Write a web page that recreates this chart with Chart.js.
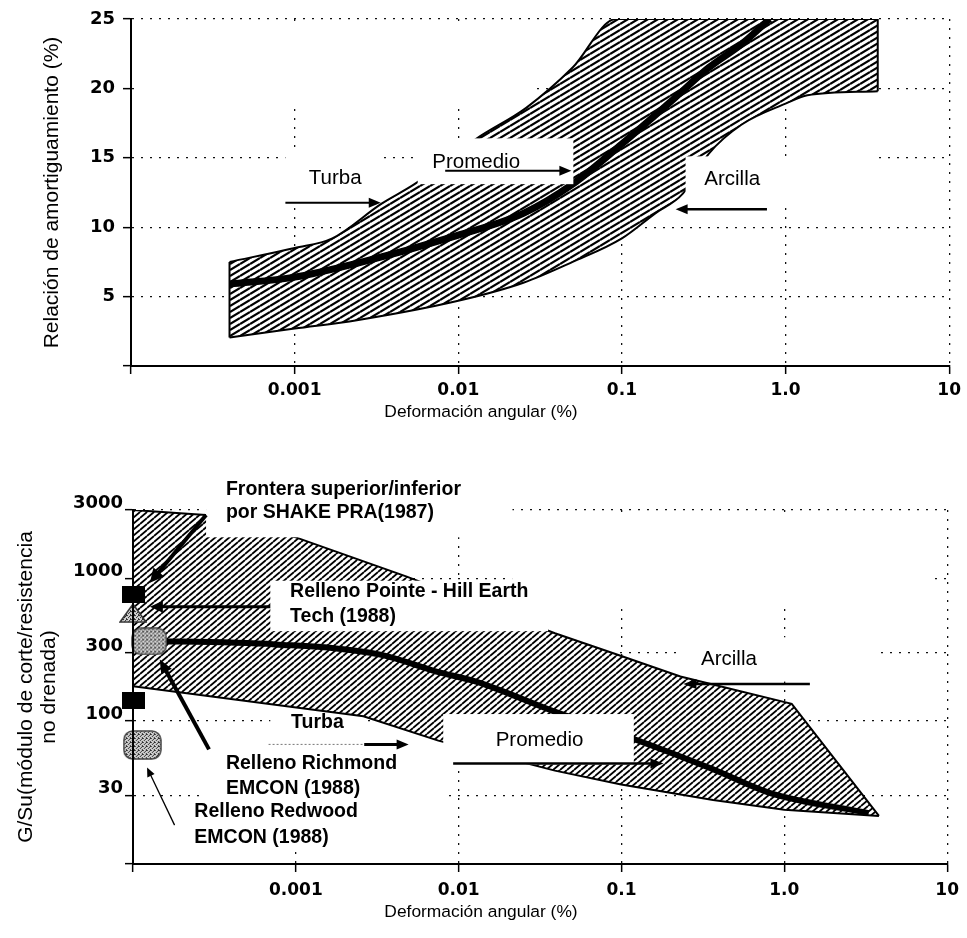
<!DOCTYPE html>
<html>
<head>
<meta charset="utf-8">
<script src="https://cdn.jsdelivr.net/npm/chart.js@4.4.1/dist/chart.umd.min.js"></script>
<style>
  html, body { margin: 0; padding: 0; background: #fff; }
  #wrap { position: relative; width: 967px; height: 938px; }
  #damping { position: absolute; left: 0; top: 0; }
  #modulus { position: absolute; left: 0; top: 440px; }
</style>
</head>
<body>
<div id="wrap">
  <canvas id="damping" width="967" height="440"></canvas>
  <canvas id="modulus" width="967" height="498"></canvas>
</div>
<script>
// ejes
var strainTicks = [0.0001, 0.001, 0.01, 0.1, 1, 10];
var strainTickLabels = ['', '0.001', '0.01', '0.1', '1.0', '10'];
var dampingTicks = [0, 5, 10, 15, 20, 25];
var dampingTickLabels = ['', '5', '10', '15', '20', '25'];
var gsuTicks = [10, 30, 100, 300, 1000, 3000];
var gsuTickLabels = ['', '30', '100', '300', '1000', '3000'];

// relacion de amortiguamiento: banda (limite superior / inferior) y promedio
var dampUpperStrain = [0.0004, 0.001, 0.0017, 0.0034, 0.0054, 0.013, 0.026, 0.05, 0.092, 3.66];
var dampUpper = [7.5, 8.5, 9.2, 11.7, 13.1, 16.4, 18.6, 21.5, 25, 25];
var dampLowerStrain = [0.0004, 0.001, 0.0024, 0.01, 0.025, 0.05, 0.1, 0.16, 0.235, 0.34, 0.54, 1.0, 1.36, 3.66];
var dampLower = [2.05, 2.7, 3.3, 4.7, 6.0, 7.5, 9.2, 11.0, 12.4, 15.3, 17.4, 18.9, 19.5, 19.8];
var dampAvgStrain = [0.0004, 0.001, 0.0024, 0.0098, 0.025, 0.05, 0.1, 0.21, 0.34, 0.54, 0.8];
var dampAvg = [5.9, 6.4, 7.4, 9.4, 11.0, 13.1, 16.0, 19.3, 21.5, 23.2, 25];

// G/Su: banda SHAKE PRA (1987) y promedio
var gsuUpperStrain = [0.0001, 0.00028, 0.001, 0.0048, 0.039, 0.09, 0.23, 1.11, 3.81];
var gsuUpper = [3000, 2770, 1930, 1026, 412, 297, 205, 132, 21.7];
var gsuLowerStrain = [0.0001, 0.0026, 0.0075, 0.039, 0.0995, 0.365, 1.0, 3.81];
var gsuLower = [175, 108, 73, 45, 36, 28, 24, 21.7];
var gsuAvgStrain = [0.0001, 0.00075, 0.0033, 0.0073, 0.0128, 0.04, 0.119, 0.365, 0.81, 3.3];
var gsuAvg = [365, 344, 292, 222, 189, 115, 75, 46, 31.5, 22.7];

// rellenos medidos
var squareStrain = [0.0001, 0.0001];
var squareGsu = [771, 140];
var pointeStrain = [0.0001];
var pointeGsu = [570];
var richmondStrain = [0.000126];
var richmondGsu = [361];
var redwoodStrain = [0.000114];
var redwoodGsu = [68];

function pts(xs, ys) {
  return xs.map(function (x, i) { return { x: x, y: ys[i] }; });
}

Chart.defaults.font.family = '"Liberation Sans", Arial, sans-serif';
Chart.defaults.color = '#000';

// rayado "/" con periodo w (horizontal) y h (vertical)
function hatchPattern(w, h, width) {
  var c = document.createElement('canvas');
  c.width = w; c.height = h;
  var g = c.getContext('2d');
  g.fillStyle = '#fff';
  g.fillRect(0, 0, w, h);
  g.strokeStyle = '#000';
  g.lineWidth = width;
  g.beginPath();
  for (var k = -1; k <= 1; k++) {
    g.moveTo(0, h + k * h);
    g.lineTo(w, k * h);
  }
  g.stroke();
  return g.createPattern(c, 'repeat');
}

function stippleTile() {
  var c = document.createElement('canvas');
  c.width = 4; c.height = 4;
  var g = c.getContext('2d');
  g.fillStyle = '#d2d2d2';
  g.fillRect(0, 0, 4, 4);
  g.fillStyle = '#2a2a2a';
  [[0, 0], [2, 1], [1, 2], [3, 3], [3, 0]].forEach(function (p) { g.fillRect(p[0], p[1], 1, 1); });
  return c;
}

function squareMark(w, h) {
  var c = document.createElement('canvas');
  c.width = w; c.height = h;
  var g = c.getContext('2d');
  g.fillStyle = '#000';
  g.fillRect(0, 0, w, h);
  return c;
}

function blobMark(w, h, r) {
  var c = document.createElement('canvas');
  c.width = w; c.height = h;
  var g = c.getContext('2d');
  g.fillStyle = g.createPattern(stippleTile(), 'repeat');
  g.beginPath();
  g.moveTo(r, 1);
  g.arcTo(w - 1, 1, w - 1, h - 1, r);
  g.arcTo(w - 1, h - 1, 1, h - 1, r);
  g.arcTo(1, h - 1, 1, 1, r);
  g.arcTo(1, 1, w - 1, 1, r);
  g.closePath();
  g.fill();
  g.strokeStyle = '#444';
  g.lineWidth = 1.5;
  g.stroke();
  return c;
}

function triMark(w, h) {
  var c = document.createElement('canvas');
  c.width = w; c.height = h;
  var g = c.getContext('2d');
  g.fillStyle = g.createPattern(stippleTile(), 'repeat');
  g.beginPath();
  g.moveTo(w / 2, 1);
  g.lineTo(w - 1, h - 1);
  g.lineTo(1, h - 1);
  g.closePath();
  g.fill();
  g.strokeStyle = '#333';
  g.lineWidth = 1.5;
  g.stroke();
  return c;
}

// cajas blancas, flechas y textos (en coordenadas de datos)
function notePlugin(notes) {
  function px(chart, v) {
    return [chart.scales.x.getPixelForValue(v[0]), chart.scales.y.getPixelForValue(v[1])];
  }
  function boxes(chart, list) {
    var ctx = chart.ctx;
    ctx.save();
    ctx.fillStyle = '#fff';
    list.forEach(function (b) {
      var a = px(chart, [b[0], b[2]]), c = px(chart, [b[1], b[3]]);
      ctx.fillRect(a[0], a[1], c[0] - a[0], c[1] - a[1]);
    });
    ctx.restore();
  }
  function arrow(chart, a) {
    var ctx = chart.ctx;
    var p0 = px(chart, a.from), p1 = px(chart, a.to);
    var dx = p1[0] - p0[0], dy = p1[1] - p0[1];
    var len = Math.sqrt(dx * dx + dy * dy), ux = dx / len, uy = dy / len;
    var head = a.head === undefined ? 12 : a.head, hw = a.hw || 5;
    ctx.save();
    ctx.strokeStyle = a.color || '#000';
    ctx.lineWidth = a.w;
    ctx.setLineDash(a.dash || []);
    ctx.beginPath();
    ctx.moveTo(p0[0], p0[1]);
    ctx.lineTo(p1[0] - ux * head * 0.7, p1[1] - uy * head * 0.7);
    ctx.stroke();
    if (head) {
      ctx.fillStyle = '#000';
      ctx.beginPath();
      ctx.moveTo(p1[0], p1[1]);
      ctx.lineTo(p1[0] - ux * head - uy * hw, p1[1] - uy * head + ux * hw);
      ctx.lineTo(p1[0] - ux * head + uy * hw, p1[1] - uy * head - ux * hw);
      ctx.closePath();
      ctx.fill();
    }
    ctx.restore();
  }
  return {
    id: 'notes',
    beforeDatasetsDraw: function (chart) { boxes(chart, notes.under); },
    afterDatasetsDraw: function (chart) {
      var ctx = chart.ctx;
      boxes(chart, notes.over);
      notes.arrows.forEach(function (a) { arrow(chart, a); });
      ctx.save();
      ctx.fillStyle = '#000';
      ctx.textBaseline = 'middle';
      notes.texts.forEach(function (t) {
        var p = px(chart, t.at);
        ctx.font = t.font;
        ctx.textAlign = t.align || 'left';
        ctx.fillText(t.text, p[0], p[1]);
      });
      ctx.restore();
    },
    afterDraw: function (chart) {
      var ctx = chart.ctx;
      ctx.save();
      ctx.fillStyle = '#000';
      ctx.font = '17.4px "Liberation Sans", Arial, sans-serif';
      ctx.textAlign = 'center';
      ctx.textBaseline = 'middle';
      ctx.fillText('Deformación angular (%)', 481, chart.chartArea.bottom + notes.titleGap);
      ctx.restore();
    }
  };
}

var gridOpts = { color: '#111', lineWidth: 1.3, tickLength: 8, tickColor: '#000', tickWidth: 1.5 };
var borderOpts = { color: '#000', width: 2, dash: [2, 7], z: 1 };

function strainAxis(height, pad) {
  return {
    type: 'logarithmic', min: 0.0001, max: 10,
    afterBuildTicks: function (s) { s.ticks = strainTicks.map(function (v) { return { value: v }; }); },
    afterFit: function (s) { s.height = height; },
    ticks: {
      autoSkip: false, maxRotation: 0, padding: pad, color: '#000',
      font: { family: '"DejaVu Sans", sans-serif', size: 17, weight: 'bold' },
      callback: function (v) { var i = strainTicks.indexOf(v); return i < 0 ? '' : strainTickLabels[i]; }
    },
    grid: gridOpts,
    border: borderOpts
  };
}

var hatchTop = hatchPattern(10, 6, 2.2);
var hatchBottom = hatchPattern(7, 6, 1.8);
var topFont = '20.5px "Liberation Sans", Arial, sans-serif';
var boldFont = 'bold 19.5px "Liberation Sans", Arial, sans-serif';

var dampNotes = {
  titleGap: 46,
  under: [[0.000105, 0.0288, 24.7, 18.6], [0.000878, 0.00336, 15.5, 11.7]],
  over: [[0.00565, 0.0505, 16.4, 13.1], [0.245, 3.63, 15.1, 11.4]],
  arrows: [
    { from: [0.000878, 11.76], to: [0.00336, 11.76], w: 2 },
    { from: [0.00832, 14.06], to: [0.0491, 14.06], w: 2 },
    { from: [0.77, 11.3], to: [0.213, 11.3], w: 2.5 }
  ],
  texts: [
    { text: 'Turba', at: [0.00177, 13.49], align: 'center', font: topFont },
    { text: 'Promedio', at: [0.00694, 14.64], font: topFont },
    { text: 'Arcilla', at: [0.472, 13.42], align: 'center', font: topFont }
  ]
};

new Chart(document.getElementById('damping'), {
  type: 'line',
  data: {
    datasets: [
      { data: pts(dampAvgStrain, dampAvg), borderColor: '#000', borderWidth: 7, pointRadius: 0,
        cubicInterpolationMode: 'monotone', fill: false, order: 0 },
      { data: pts(dampUpperStrain, dampUpper), borderColor: '#000', borderWidth: 2, pointRadius: 0,
        cubicInterpolationMode: 'monotone', backgroundColor: hatchTop, fill: 2, order: 2 },
      { data: pts(dampLowerStrain, dampLower), borderColor: '#000', borderWidth: 2, pointRadius: 0,
        cubicInterpolationMode: 'monotone', fill: false, order: 1 },
      { data: [{ x: dampLowerStrain[0], y: dampLower[0] }, { x: dampUpperStrain[0], y: dampUpper[0] }],
        borderColor: '#000', borderWidth: 2, pointRadius: 0, fill: false, order: 1 },
      { data: [{ x: dampLowerStrain[dampLowerStrain.length - 1], y: dampLower[dampLower.length - 1] },
               { x: dampUpperStrain[dampUpperStrain.length - 1], y: dampUpper[dampUpper.length - 1] }],
        borderColor: '#000', borderWidth: 2, pointRadius: 0, fill: false, order: 1 }
    ]
  },
  options: {
    responsive: false,
    animation: false,
    events: [],
    layout: { padding: { top: 19, right: 11, left: 0, bottom: 0 } },
    plugins: { legend: { display: false }, tooltip: { enabled: false } },
    scales: {
      x: strainAxis(74, 6),
      y: {
        type: 'linear', min: 0, max: 25,
        afterBuildTicks: function (s) { s.ticks = dampingTicks.map(function (v) { return { value: v }; }); },
        afterFit: function (s) { s.width = 131; },
        ticks: {
          padding: 8, color: '#000',
          font: { family: '"DejaVu Sans", sans-serif', size: 18, weight: 'bold' },
          callback: function (v) { var i = dampingTicks.indexOf(v); return i < 0 ? '' : dampingTickLabels[i]; }
        },
        grid: gridOpts,
        border: borderOpts,
        title: {
          display: true, text: 'Relación de amortiguamiento (%)', color: '#000',
          font: { size: 21 }, padding: { top: 40, bottom: 0 }
        }
      }
    }
  },
  plugins: [notePlugin(dampNotes)]
});

var gsuNotes = {
  titleGap: 48,
  under: [
    [0.0213, 7.88, 2720, 609],
    [0.23, 3.56, 386, 189],
    [0.000697, 0.00263, 136, 65.5],
    [0.000274, 0.0084, 60.4, 26.8],
    [0.000222, 0.00274, 27.9, 12.5]
  ],
  over: [
    [0.000281, 0.0214, 5300, 1932],
    [0.000697, 0.0354, 960, 426],
    [0.00804, 0.119, 112, 49.7]
  ],
  arrows: [
    { from: [0.000281, 2767], to: [0.000127, 929], w: 4, head: 14, hw: 7 },
    { from: [0.000697, 630], to: [0.000127, 630], w: 3, head: 13, hw: 6 },
    { from: [0.000293, 63.4], to: [0.000146, 270], w: 4, head: 14, hw: 6 },
    { from: [0.00018, 18.7], to: [0.000122, 47.3], w: 1.3, head: 9, hw: 4 },
    { from: [0.00068, 68.7], to: [0.00263, 68.7], w: 1, head: 0, dash: [2, 2], color: '#777' },
    { from: [0.00263, 68.7], to: [0.00493, 68.7], w: 3, head: 12, hw: 5 },
    { from: [0.00925, 50.5], to: [0.181, 50.5], w: 2.5, head: 13, hw: 5 },
    { from: [1.435, 182], to: [0.24, 182], w: 2.5, head: 13, hw: 5 }
  ],
  texts: [
    { text: 'Frontera superior/inferior', at: [0.000372, 4152], font: boldFont },
    { text: 'por SHAKE PRA(1987)', at: [0.000372, 2857], font: boldFont },
    { text: 'Relleno Pointe - Hill Earth', at: [0.000922, 803], font: boldFont },
    { text: 'Tech (1988)', at: [0.000922, 535], font: boldFont },
    { text: 'Turba', at: [0.000935, 96.8], font: boldFont },
    { text: 'Promedio', at: [0.01687, 73.4], font: topFont },
    { text: 'Arcilla', at: [0.308, 270], font: topFont },
    { text: 'Relleno Richmond', at: [0.000372, 50.5], font: boldFont },
    { text: 'EMCON (1988)', at: [0.000372, 33.6], font: boldFont },
    { text: 'Relleno Redwood', at: [0.000238, 23.1], font: boldFont },
    { text: 'EMCON (1988)', at: [0.000238, 15.4], font: boldFont }
  ]
};

new Chart(document.getElementById('modulus'), {
  type: 'line',
  data: {
    datasets: [
      { data: pts(squareStrain, squareGsu), showLine: false, pointStyle: squareMark(23, 17), pointRadius: 8, clip: false, order: 0 },
      { data: pts(pointeStrain, pointeGsu), showLine: false, pointStyle: triMark(28, 20), pointRadius: 8, clip: false, order: 0 },
      { data: pts(richmondStrain, richmondGsu), showLine: false, pointStyle: blobMark(36, 28, 9), pointRadius: 8, clip: false, order: 0 },
      { data: pts(redwoodStrain, redwoodGsu), showLine: false, pointStyle: blobMark(39, 30, 9), pointRadius: 8, clip: false, order: 0 },
      { data: pts(gsuAvgStrain, gsuAvg), borderColor: '#000', borderWidth: 6, pointRadius: 0,
        cubicInterpolationMode: 'monotone', fill: false, order: 1 },
      { data: pts(gsuUpperStrain, gsuUpper), borderColor: '#000', borderWidth: 2, pointRadius: 0,
        backgroundColor: hatchBottom, fill: 6, order: 3 },
      { data: pts(gsuLowerStrain, gsuLower), borderColor: '#000', borderWidth: 2, pointRadius: 0,
        fill: false, order: 2 }
    ]
  },
  options: {
    responsive: false,
    animation: false,
    events: [],
    layout: { padding: { top: 70, right: 11, left: 0, bottom: 0 } },
    plugins: { legend: { display: false }, tooltip: { enabled: false } },
    scales: {
      x: strainAxis(74, 8),
      y: {
        type: 'logarithmic', min: 10, max: 3000,
        afterBuildTicks: function (s) { s.ticks = gsuTicks.map(function (v) { return { value: v }; }); },
        afterFit: function (s) { s.width = 133; },
        ticks: {
          padding: 2, labelOffset: -7, color: '#000',
          font: { family: '"DejaVu Sans", sans-serif', size: 18, weight: 'bold' },
          callback: function (v) { var i = gsuTicks.indexOf(v); return i < 0 ? '' : gsuTickLabels[i]; }
        },
        grid: gridOpts,
        border: borderOpts,
        title: {
          display: true, text: ['G/Su(módulo de corte/resistencia', 'no drenada)'], color: '#000',
          font: { size: 21, lineHeight: 1.1 }, padding: { top: 15, bottom: 0 }
        }
      }
    }
  },
  plugins: [notePlugin(gsuNotes)]
});
</script>
</body>
</html>
